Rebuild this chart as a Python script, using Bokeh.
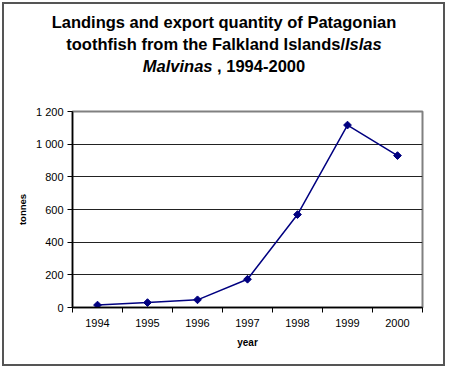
import math
from bokeh.plotting import figure
from bokeh.layouts import column
from bokeh.models import FixedTicker, ColumnDataSource, Div
from bokeh.embed import file_html
from bokeh.resources import INLINE

years = [1994, 1995, 1996, 1997, 1998, 1999, 2000]
tonnes = [15, 30, 47, 173, 569, 1117, 930]
y_ticks = [0, 200, 400, 600, 800, 1000, 1200]
y_tick_labels = ["0", "200", "400", "600", "800", "1 000", "1 200"]
category_edges = [y - 0.5 for y in years] + [years[-1] + 0.5]

title_line1 = "Landings and export quantity of Patagonian"
title_line2 = "toothfish from the Falkland Islands/"
title_line2_italic = "Islas"
title_line3_italic = "Malvinas"
title_line3 = " , 1994-2000"

FONT = "Liberation Sans"
W = 447
TITLE_H = 105

title_html = (
    f'<div style="font-family:\'{FONT}\';font-size:16.5px;font-weight:bold;'
    f'text-align:center;line-height:22px;color:black;width:{W - 2}px;'
    f'padding-top:11px;padding-left:3px;white-space:nowrap;">'
    f'{title_line1}<br>{title_line2}<i>{title_line2_italic}</i><br>'
    f'<i>{title_line3_italic}</i>{title_line3}</div>'
)
t = Div(text=title_html, width=W, height=TITLE_H, styles={"margin": "0", "padding": "0"})

# ---- chart ----
p = figure(width=W, height=368 - TITLE_H, output_backend="svg", toolbar_location=None,
           x_range=(category_edges[0], category_edges[-1]), y_range=(0, 1200),
           min_border_left=72, min_border_right=25, min_border_top=111 - TITLE_H,
           min_border_bottom=61, frame_width=350, frame_height=196)
p.background_fill_color = "white"
p.border_fill_color = None
p.outline_line_color = "#808080"
p.outline_line_width = 2

p.xgrid.grid_line_color = None
p.ygrid.grid_line_color = "#222222"
p.ygrid.grid_line_width = 1

xa = p.xaxis[0]
xa.ticker = FixedTicker(ticks=years, minor_ticks=category_edges)
xa.major_tick_line_color = None
xa.major_tick_out = 5
xa.major_tick_in = 0
xa.minor_tick_line_color = "black"
xa.minor_tick_out = 5
xa.minor_tick_in = 0
xa.axis_line_color = "black"
xa.axis_line_width = 1.5
xa.major_label_text_font = FONT
xa.major_label_text_font_size = "11px"
xa.major_label_text_color = "black"
xa.major_label_standoff = 6
xa.axis_label = "year"
xa.axis_label_text_font = FONT
xa.axis_label_text_font_size = "10px"
xa.axis_label_text_font_style = "bold"
xa.axis_label_text_color = "black"
xa.axis_label_standoff = 7

ya = p.yaxis[0]
ya.ticker = FixedTicker(ticks=y_ticks)
ya.major_label_overrides = {tk: lb for tk, lb in zip(y_ticks, y_tick_labels)}
ya.minor_tick_line_color = None
ya.major_tick_out = 5
ya.major_tick_in = 0
ya.major_tick_line_color = "black"
ya.axis_line_color = "black"
ya.axis_line_width = 1.5
ya.major_label_text_font = FONT
ya.major_label_text_font_size = "11px"
ya.major_label_text_color = "black"
ya.major_label_standoff = 4
ya.axis_label = "tonnes"
ya.axis_label_text_font = FONT
ya.axis_label_text_font_size = "9.5px"
ya.axis_label_text_font_style = "bold"
ya.axis_label_text_color = "black"
ya.axis_label_standoff = 5

src = ColumnDataSource(dict(year=years, tonnes=tonnes))
p.line("year", "tonnes", source=src, line_color="#000080", line_width=1.5)
p.scatter("year", "tonnes", source=src, marker="square", angle=math.pi / 4, size=5.5,
          fill_color="#000080", line_color="#000080")

layout = column(t, p, spacing=0,
                styles={"background-color": "white",
                        "box-shadow": "inset 0 0 0 2px white, inset 0 0 0 4px #555555"})

open("out.html", "w").write(file_html(layout, INLINE))
